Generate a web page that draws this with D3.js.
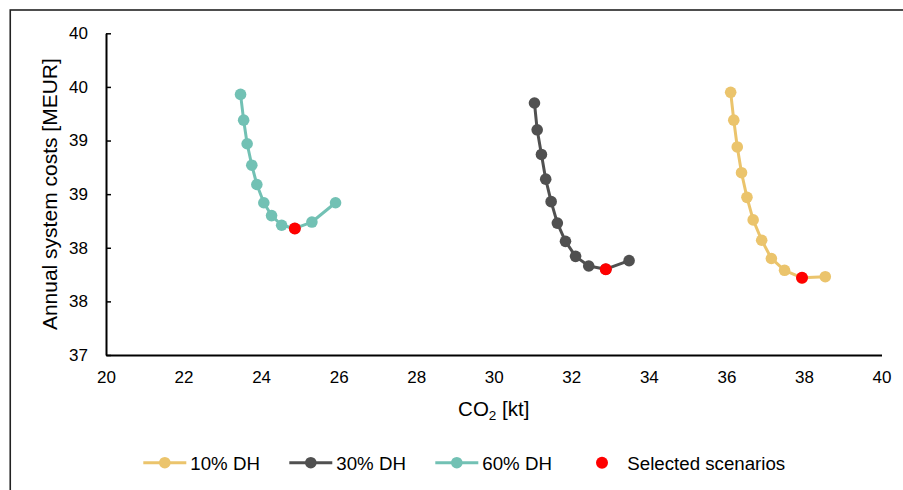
<!DOCTYPE html>
<html>
<head>
<meta charset="utf-8">
<script src="https://cdn.jsdelivr.net/npm/d3@7"></script>
<style>
  html, body { margin: 0; padding: 0; background: #ffffff; }
  svg { display: block; font-family: "Liberation Sans", Arial, sans-serif; }
</style>
</head>
<body>
<script>
// ---- data ----
const dh10X = [36.11, 36.19, 36.28, 36.39, 36.53, 36.69, 36.91, 37.16, 37.50, 37.95, 38.55];
const dh10Y = [39.45, 39.19, 38.94, 38.70, 38.47, 38.26, 38.07, 37.90, 37.79, 37.72, 37.73];
const dh30X = [31.05, 31.12, 31.23, 31.34, 31.48, 31.64, 31.85, 32.11, 32.45, 32.89, 33.49];
const dh30Y = [39.35, 39.10, 38.87, 38.64, 38.43, 38.23, 38.06, 37.92, 37.83, 37.80, 37.88];
const dh60X = [23.47, 23.55, 23.64, 23.76, 23.89, 24.07, 24.27, 24.53, 24.87, 25.31, 25.92];
const dh60Y = [39.43, 39.19, 38.97, 38.77, 38.59, 38.42, 38.30, 38.21, 38.18, 38.24, 38.42];
const selectedX = [24.87, 32.89, 37.95];
const selectedY = [38.18, 37.80, 37.72];
const seriesNames = ["10% DH", "30% DH", "60% DH"];
const selectedName = "Selected scenarios";
const xTickValues = [20, 22, 24, 26, 28, 30, 32, 34, 36, 38, 40];
const yTickValues = [37, 37.5, 38, 38.5, 39, 39.5, 40];
const yTickLabels = ["37", "38", "38", "39", "39", "40", "40"];
const xTitleMain = "CO";
const xTitleSub = "2";
const xTitleRest = " [kt]";
const yTitle = "Annual system costs [MEUR]";

// ---- layout ----
const W = 903, H = 490;
const colors = ["#EBC46C", "#505050", "#72C1B4"];
const selColor = "#FF0000";

const svg = d3.select("body").append("svg").attr("width", W).attr("height", H);

// outer frame (cropped at right and bottom)
svg.append("rect")
  .attr("x", 10.25).attr("y", 10).attr("width", 1000).attr("height", 1000)
  .attr("fill", "none").attr("stroke", "#222").attr("stroke-width", 1.6);

const x = d3.scaleLinear().domain([20, 40]).range([106, 881.5]);
const y = d3.scaleLinear().domain([37, 40]).range([355, 33.3]);

// axes
const yAxis = d3.axisLeft(y)
  .tickValues(yTickValues)
  .tickFormat((d, i) => yTickLabels[i])
  .tickSizeInner(-5).tickSizeOuter(0).tickPadding(18);
const gy = svg.append("g").attr("transform", `translate(${x.range()[0]},0)`).call(yAxis);
gy.select(".domain").attr("stroke", "#000").attr("stroke-width", 2);
gy.selectAll(".tick line").attr("stroke", "#000").attr("stroke-width", 1.5);
gy.selectAll(".tick text").attr("font-size", 17).attr("fill", "#000")
  .attr("font-family", "Liberation Sans, Arial, sans-serif");

const xAxis = d3.axisBottom(x)
  .tickValues(xTickValues)
  .tickFormat(d3.format("d"))
  .tickSizeInner(0).tickSizeOuter(0).tickPadding(16);
const gx = svg.append("g").attr("transform", `translate(0,${y.range()[0]})`).call(xAxis);
gx.select(".domain").attr("stroke", "#000").attr("stroke-width", 2);
gx.selectAll(".tick text").attr("font-size", 17).attr("fill", "#000")
  .attr("font-family", "Liberation Sans, Arial, sans-serif");

// axis titles
const xt = svg.append("text")
  .attr("x", (x.range()[0] + x.range()[1]) / 2).attr("y", 416)
  .attr("text-anchor", "middle").attr("font-size", 20.5).attr("fill", "#000");
xt.append("tspan").text(xTitleMain);
xt.append("tspan").attr("font-size", 13.5).attr("dy", 4).text(xTitleSub);
xt.append("tspan").attr("dy", -4).text(xTitleRest);

svg.append("text")
  .attr("transform", `translate(57,${(y.range()[0] + y.range()[1]) / 2}) rotate(-90)`)
  .attr("text-anchor", "middle").attr("font-size", 21).attr("fill", "#000")
  .text(yTitle);

// series
const seriesX = [dh10X, dh30X, dh60X];
const seriesY = [dh10Y, dh30Y, dh60Y];
const line = d3.line().x(d => x(d[0])).y(d => y(d[1]));

seriesX.forEach((xs, s) => {
  const pts = xs.map((v, i) => [v, seriesY[s][i]]);
  svg.append("path").datum(pts)
    .attr("d", line).attr("fill", "none")
    .attr("stroke", colors[s]).attr("stroke-width", 3).attr("stroke-linejoin", "round");
  svg.append("g").selectAll("circle").data(pts).join("circle")
    .attr("cx", d => x(d[0])).attr("cy", d => y(d[1])).attr("r", 5.8)
    .attr("fill", colors[s]);
});

// selected
svg.append("g").selectAll("circle").data(selectedX.map((v, i) => [v, selectedY[i]])).join("circle")
  .attr("cx", d => x(d[0])).attr("cy", d => y(d[1])).attr("r", 6)
  .attr("fill", selColor);

// legend
const legY = 462.7;
const legLineStart = [143.3, 289.3, 435.3];
seriesNames.forEach((name, s) => {
  const x0 = legLineStart[s];
  svg.append("line").attr("x1", x0).attr("x2", x0 + 43).attr("y1", legY).attr("y2", legY)
    .attr("stroke", colors[s]).attr("stroke-width", 3);
  svg.append("circle").attr("cx", x0 + 21.5).attr("cy", legY).attr("r", 5.8).attr("fill", colors[s]);
  svg.append("text").attr("x", x0 + 47).attr("y", legY + 7)
    .attr("font-size", 18.7).attr("fill", "#000").text(name);
});
svg.append("circle").attr("cx", 602).attr("cy", legY).attr("r", 6).attr("fill", selColor);
svg.append("text").attr("x", 627.3).attr("y", legY + 7)
  .attr("font-size", 18.7).attr("fill", "#000").text(selectedName);
</script>
</body>
</html>
